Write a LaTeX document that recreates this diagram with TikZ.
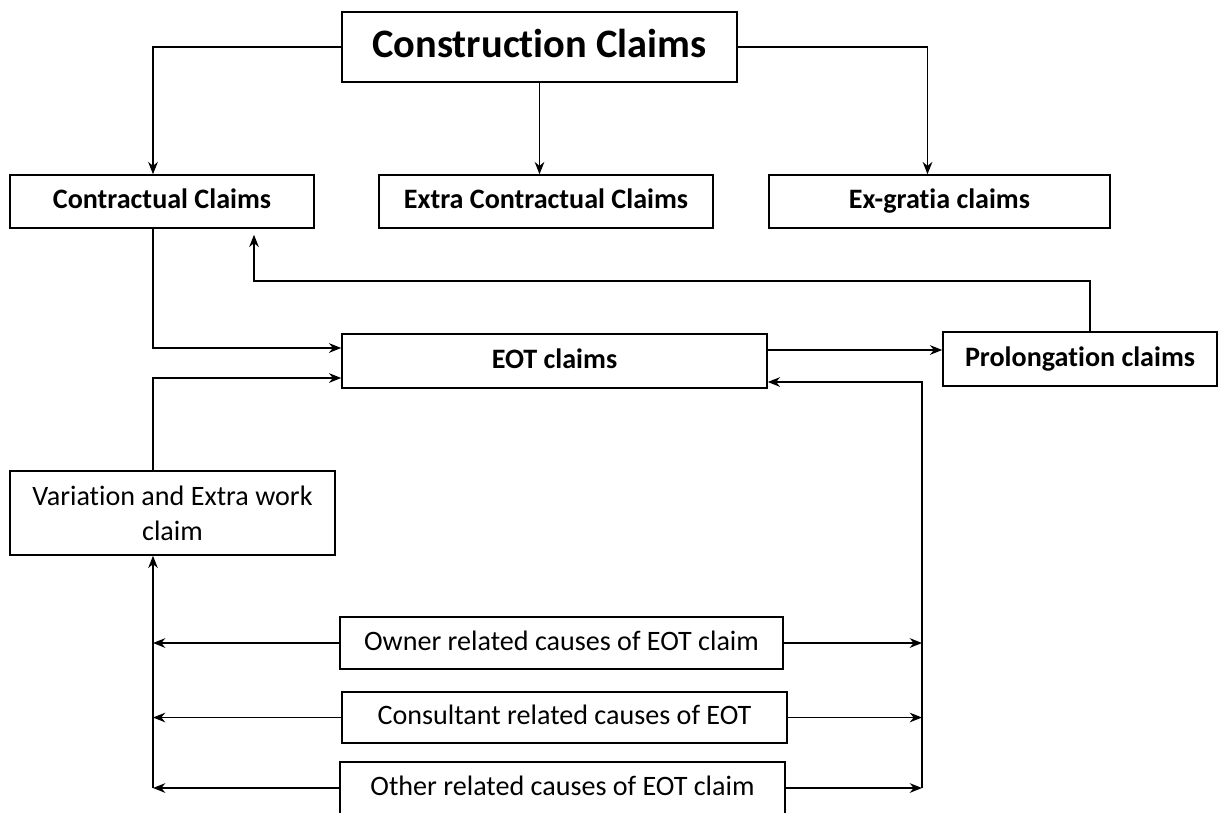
\documentclass[tikz,border=0pt]{standalone}
\usepackage{fontspec}
\setmainfont{Carlito}[Ligatures=NoCommon]
\usepackage{tikz}
\usetikzlibrary{calc,arrows.meta}
\tikzset{box/.style = {draw, line width=0.9pt, inner sep=0pt, align=center,
  text height=11.5pt, text depth=3.5pt, font=\fontsize{16}{20}\selectfont},
  boldbox/.style = {box, font=\bfseries\fontsize{16}{20}\selectfont}}

\begin{document}
\begin{tikzpicture}[x=0.02cm,y=-0.02cm,line width=0.9pt,>={Stealth[length=7pt,width=5.5pt]}]
  \useasboundingbox (0,0) rectangle (1219,812);
  \node[boldbox, minimum width=7.9cm, minimum height=1.4cm, text height=16.5pt, text depth=5pt,
    font=\bfseries\fontsize{23}{27}\selectfont] (CC) at (539.5,47) {Construction Claims};
  \node[boldbox, minimum width=6.08cm, minimum height=1.06cm] (Contr) at (162,201.5) {Contractual Claims};
  \node[boldbox, minimum width=6.68cm, minimum height=1.06cm] (Extra) at (546,201.5) {Extra Contractual Claims};
  \node[boldbox, minimum width=6.82cm, minimum height=1.06cm] (Exg) at (939.5,201.5) {Ex-gratia claims};
  \node[boldbox, minimum width=8.5cm, minimum height=1.08cm] (EOT) at (554.5,361) {EOT claims};
  \node[boldbox, minimum width=5.48cm, minimum height=1.08cm] (Prol) at (1080,359) {Prolongation claims};
  \node[box, minimum width=6.5cm, minimum height=1.68cm, text height=, text depth=] (Var) at (172.5,513) {Variation and Extra work\\claim};
  \node[box, minimum width=8.86cm, minimum height=1.04cm] (Own) at (561.5,643) {Owner related causes of EOT claim};
  \node[box, minimum width=8.9cm, minimum height=1.02cm] (Cons) at (564.5,717.5) {Consultant related causes of EOT};
  \node[box, minimum width=8.9cm, minimum height=1.04cm] (Oth) at (562.5,788) {Other related causes of EOT claim};
  % trunk lines and bend points
  \coordinate (lt) at (153,0);
  \coordinate (rt) at (922,0);
  \coordinate (bk) at (254,281);
  \coordinate (ep) at ($(EOT.east)+(0,-11)$);
  % top level
  \draw[->] (CC.west) -| (Contr.north -| lt);
  \draw[->] (CC.south) -- (CC.south |- Extra.north);
  \draw[->] (CC.east) -| ($(Exg.north)+(-12,0)$);
  % EOT and prolongation
  \draw[->] (Contr.south -| lt) |- ($(EOT.west)+(0,-13)$);
  \draw[->] (Var.north -| lt) |- ($(EOT.west)+(0,17)$);
  \draw[->] (ep) -- (ep -| Prol.west);
  \draw[->] ($(Prol.north)+(10,0)$) |- (bk) -- ($(bk |- Contr.south)+(0,6)$);
  % causes
  \draw[->] (Own.east) -- (Own.east -| rt);
  \draw[->] (Cons.east) -- (Cons.east -| rt);
  \draw[->] (Oth.east) -- (Oth.east -| rt);
  \draw[->] (rt |- Oth.east) |- ($(EOT.east)+(0,21)$);
  \draw[->] (Own.west) -- (Own.west -| lt);
  \draw[->] (Cons.west) -- (Cons.west -| lt);
  \draw[->] (Oth.west) -- (Oth.west -| lt);
  \draw[->] (lt |- Oth.west) -- (lt |- Var.south);
\end{tikzpicture}
\end{document}
